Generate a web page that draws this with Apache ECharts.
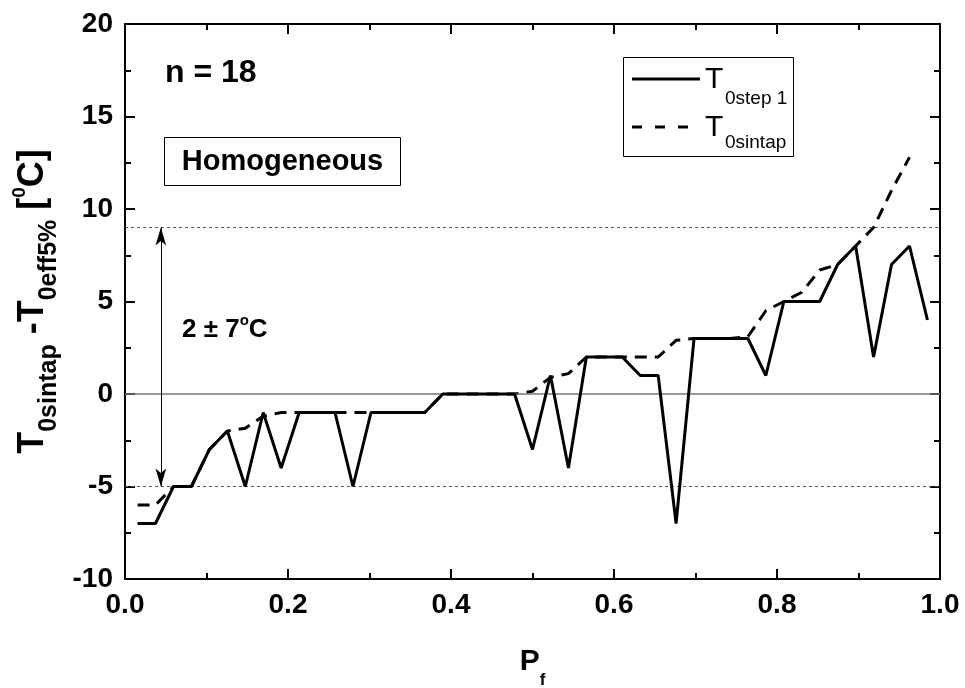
<!DOCTYPE html>
<html>
<head>
<meta charset="utf-8">
<script src="https://cdn.jsdelivr.net/npm/echarts@6/dist/echarts.min.js"></script>
<style>html,body{margin:0;padding:0;background:#fff}#c{width:965px;height:688px}</style>
</head>
<body>
<div id="c"></div>
<script>
// ---- data ----
const pf = [0.0154, 0.0374, 0.0595, 0.0815, 0.1035, 0.1256, 0.1476, 0.1696, 0.1916, 0.2137,
            0.2357, 0.2577, 0.2797, 0.3018, 0.3238, 0.3458, 0.3678, 0.3899, 0.4119, 0.4339,
            0.4559, 0.4780, 0.5000, 0.5220, 0.5441, 0.5661, 0.5881, 0.6101, 0.6322, 0.6542,
            0.6762, 0.6982, 0.7203, 0.7423, 0.7643, 0.7863, 0.8084, 0.8304, 0.8524, 0.8744,
            0.8965, 0.9185, 0.9405, 0.9626, 0.9846];
const tStep1 = [-7, -7, -5, -5, -3, -2, -5, -1, -4, -1,
                -1, -1, -5, -1, -1, -1, -1, 0, 0, 0,
                0, 0, -3, 1, -4, 2, 2, 2, 1, 1,
                -7, 3, 3, 3, 3, 1, 5, 5, 5, 7,
                8, 2, 7, 8, 4];
const tSintap = [-6, -6, -5, -5, -3, -2, -1.85, -1.2, -1, -1,
                 -1, -1, -1, -1, -1, -1, -1, 0, 0, 0,
                 0, 0, 0.15, 0.9, 1.1, 2, 2, 2, 2, 2,
                 2.9, 3, 3, 3, 3.1, 4.5, 5.0, 5.5, 6.7, 7,
                 8, 9.0, 11, 12.8, null];
const xTickLabels = ['0.0', '0.2', '0.4', '0.6', '0.8', '1.0'];
const yTickLabels = ['-10', '-5', '0', '5', '10', '15', '20'];
const refLevels = [9, -5];        // dotted band limits
const zeroLevel = [0];
const arrowX = [0.044];
const arrowSpan = [9, -5];

const F = 'Arial, "Liberation Sans", sans-serif';
const chart = echarts.init(document.getElementById('c'), null, {renderer: 'canvas'});

function axisBase(min, max, interval, pos) {
  return {
    type: 'value', min: min, max: max, interval: interval, position: pos,
    axisLine: {onZero: false, lineStyle: {color: '#000', width: 2}},
    axisTick: {inside: true, length: 10, lineStyle: {color: '#000', width: 2}},
    minorTick: {show: true, splitNumber: 2, length: 6, lineStyle: {color: '#000', width: 2}},
    splitLine: {show: false},
    minorSplitLine: {show: false}
  };
}

const xMain = axisBase(0, 1, 0.2, 'bottom');
xMain.axisLabel = {margin: 12, color: '#000', fontSize: 28, fontWeight: 'bold', fontFamily: F,
  formatter: v => xTickLabels[Math.round(v / 0.2)]};
xMain.name = '{b|P}{s|f}';
xMain.nameLocation = 'middle';
xMain.nameGap = 55;
xMain.nameTextStyle = {rich: {
  b: {fontSize: 30, fontWeight: 'bold', fontFamily: F, color: '#000'},
  s: {fontSize: 17, fontWeight: 'bold', fontFamily: F, color: '#000', padding: [38, 0, 0, 0]}
}};
const xTop = axisBase(0, 1, 0.2, 'top');
xTop.axisLabel = {show: false};

const yMain = axisBase(-10, 20, 5, 'left');
yMain.axisLabel = {margin: 12, color: '#000', fontSize: 28, fontWeight: 'bold', fontFamily: F,
  formatter: v => yTickLabels[Math.round((v + 10) / 5)]};
yMain.name = '{b|T}{s|0sintap}{b| -T}{s|0eff5%}{b| [}{p|0}{b|C]}';
yMain.nameLocation = 'middle';
yMain.nameRotate = 90;
yMain.nameGap = 58;
yMain.nameTextStyle = {rich: {
  b: {fontSize: 36, fontWeight: 'bold', fontFamily: F, color: '#000'},
  s: {fontSize: 25, fontWeight: 'bold', fontFamily: F, color: '#000', padding: [32, 0, 0, 0]},
  p: {fontSize: 19, fontWeight: 'bold', fontFamily: F, color: '#000', padding: [0, 0, 26, 0]}
}};
const yRight = axisBase(-10, 20, 5, 'right');
yRight.axisLabel = {show: false};

const option = {
  animation: false,
  backgroundColor: '#fff',
  grid: {left: 125, right: 25, top: 24, bottom: 109, containLabel: false, outerBoundsMode: 'none'},
  xAxis: [xMain, xTop],
  yAxis: [yMain, yRight],
  series: [
    {
      name: 'T0sintap', type: 'line', xAxisIndex: 0, yAxisIndex: 0,
      data: pf.map((x, i) => [x, tSintap[i]]),
      symbol: 'none', connectNulls: false,
      lineStyle: {color: '#000', width: 3, type: [12, 8]},
      z: 4,
      markLine: {
        silent: true, symbol: 'none', label: {show: false}, animation: false,
        data: refLevels.map(v => ({yAxis: v, lineStyle: {color: '#555', width: 1, type: [3, 3]}}))
          .concat(zeroLevel.map(v => ({yAxis: v, lineStyle: {color: '#777', width: 1.5, type: 'solid'}})))
      }
    },
    {
      name: 'T0step 1', type: 'line', xAxisIndex: 0, yAxisIndex: 0,
      data: pf.map((x, i) => [x, tStep1[i]]),
      symbol: 'none',
      lineStyle: {color: '#000', width: 3, type: 'solid'},
      z: 5,
      markLine: {
        silent: true, symbol: ['arrow', 'arrow'], symbolSize: [8, 18], label: {show: false}, animation: false,
        lineStyle: {color: '#000', width: 1, type: 'solid'},
        data: [[{coord: [arrowX[0], arrowSpan[0]]}, {coord: [arrowX[0], arrowSpan[1]]}]]
      }
    }
  ],
  graphic: [
    {type: 'text', x: 165, y: 73, style: {text: 'n = 18', font: 'bold 32px ' + F, fill: '#000', align: 'left', verticalAlign: 'middle'}},
    {type: 'rect', shape: {x: 164.5, y: 137.5, width: 236, height: 48}, style: {fill: '#fff', stroke: '#000', lineWidth: 1}},
    {type: 'text', x: 282.5, y: 161.5, style: {text: 'Homogeneous', font: 'bold 29px ' + F, fill: '#000', align: 'center', verticalAlign: 'middle'}},
    {type: 'text', x: 182, y: 330, style: {
      text: '{a|2 ± 7}{o|o}{a|C}', align: 'left', verticalAlign: 'middle',
      rich: {
        a: {font: 'bold 26px ' + F, fill: '#000'},
        o: {font: 'bold 15px ' + F, fill: '#000', padding: [0, 0, 18, 0]}
      }}},
    // legend
    {type: 'rect', shape: {x: 623.5, y: 57.5, width: 170, height: 99}, style: {fill: '#fff', stroke: '#000', lineWidth: 1}},
    {type: 'line', shape: {x1: 632, y1: 79, x2: 700, y2: 79}, style: {stroke: '#000', lineWidth: 3}},
    {type: 'text', x: 705, y: 80, style: {text: 'T', font: '30px ' + F, fill: '#000', align: 'left', verticalAlign: 'middle'}},
    {type: 'text', x: 725, y: 99, style: {text: '0step 1', font: '19px ' + F, fill: '#000', align: 'left', verticalAlign: 'middle'}},
    {type: 'line', shape: {x1: 632, y1: 127, x2: 700, y2: 127}, style: {stroke: '#000', lineWidth: 3, lineDash: [10, 13]}},
    {type: 'text', x: 705, y: 128, style: {text: 'T', font: '30px ' + F, fill: '#000', align: 'left', verticalAlign: 'middle'}},
    {type: 'text', x: 725, y: 143, style: {text: '0sintap', font: '19px ' + F, fill: '#000', align: 'left', verticalAlign: 'middle'}}
  ]
};
chart.setOption(option);
</script>
</body>
</html>
